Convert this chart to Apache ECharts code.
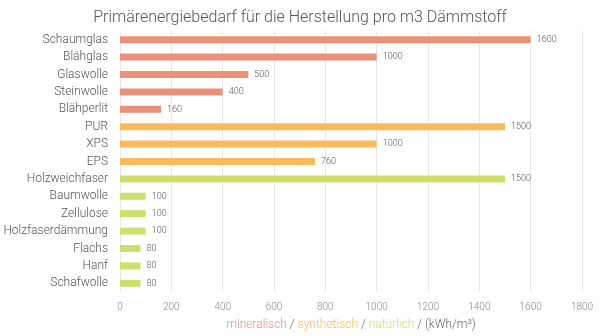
<!DOCTYPE html>
<html><head><meta charset="utf-8">
<script src="https://cdn.jsdelivr.net/npm/echarts@6/dist/echarts.min.js"></script>
<style>html,body{margin:0;padding:0;background:#fff}#c{width:600px;height:336px}</style>
</head><body><div id="c"></div>
<script>
const categories = ["Schaumglas","Blähglas","Glaswolle","Steinwolle","Blähperlit","PUR","XPS","EPS","Holzweichfaser","Baumwolle","Zellulose","Holzfaserdämmung","Flachs","Hanf","Schafwolle"];
const values = [1600,1000,500,400,160,1500,1000,760,1500,100,100,100,80,80,80];
const groups = ["m","m","m","m","m","s","s","s","n","n","n","n","n","n","n"];
const groupColors = {m:"#EC9179", s:"#FDBA5C", n:"#CFDF6C"};
const xTicks = [0,200,400,600,800,1000,1200,1400,1600,1800];

const chart = echarts.init(document.getElementById('c'));
const font = 'Roboto';
chart.setOption({
  animation:false,
  title:{text:'Primärenergiebedarf für die Herstellung pro m3 Dämmstoff',left:'center',top:5,
    textStyle:{fontFamily:font,fontWeight:300,fontSize:16,color:'#555'}},
  grid:{left:120,right:18,top:31,bottom:41,containLabel:false},
  xAxis:{type:'value',min:xTicks[0],max:xTicks[xTicks.length-1],interval:200,
    axisLine:{show:false},axisTick:{show:false},
    splitLine:{lineStyle:{color:'#e6e6e6'}},
    axisLabel:{fontFamily:font,fontWeight:300,fontSize:10,color:'#888',margin:10,formatter:v=>String(v)},
    name:'{a|mineralisch} / {b|synthetisch} / {c|natürlich} / (kWh/m³)',
    nameLocation:'middle',nameGap:27,
    nameTextStyle:{fontFamily:font,fontWeight:300,fontSize:12,color:'#666',
      rich:{a:{color:'#EC9179',fontFamily:font,fontWeight:300,fontSize:12},
            b:{color:'#FDBA5C',fontFamily:font,fontWeight:300,fontSize:12},
            c:{color:'#CFDF6C',fontFamily:font,fontWeight:300,fontSize:12}}}},
  yAxis:{type:'category',inverse:true,data:categories,
    axisLine:{show:false},axisTick:{show:false},
    axisLabel:{fontFamily:font,fontWeight:300,fontSize:12,color:'#555',margin:12}},
  series:[{type:'bar',barWidth:7,
    data:values.map((v,i)=>({value:v,itemStyle:{color:groupColors[groups[i]]}})),
    label:{show:true,position:'right',distance:6,fontFamily:font,fontWeight:300,fontSize:9,color:'#555'}}]
});
</script></body></html>
